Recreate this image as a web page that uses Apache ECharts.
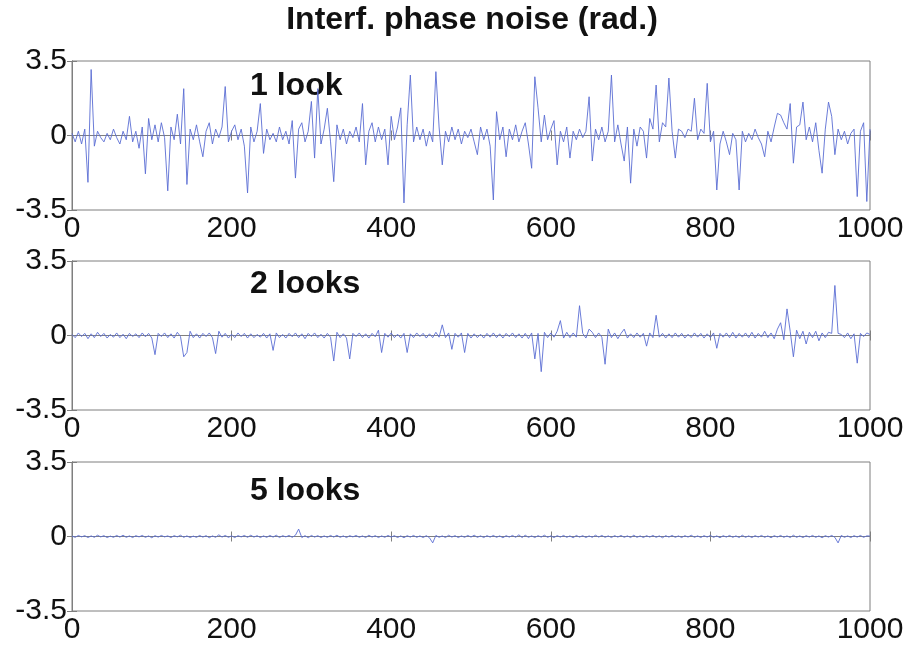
<!DOCTYPE html>
<html><head><meta charset="utf-8">
<script src="https://cdn.jsdelivr.net/npm/echarts@6/dist/echarts.min.js"></script>
<style>html,body{margin:0;padding:0;background:#fff}#c{width:911px;height:647px}</style>
</head><body><div id="c"></div>
<script>
const titleText = 'Interf. phase noise (rad.)';
const panelLabels = ['1 look', '2 looks', '5 looks'];
const sampleStep = 4;            // samples between stored points
const xTickValues = [0, 200, 400, 600, 800, 1000];
const yTickValues = [-3.5, 0, 3.5];

// 1 look (x = index * sampleStep)
const look1 = [
0.1,-0.3,0.2,-0.4,0.3,-2.2,3.1,-0.5,0.2,-0.1,
-0.3,0.1,-0.2,0.3,-0.1,-0.4,0.2,-0.2,0.9,-0.3,
0.2,-0.6,0.4,-1.8,0.8,-0.2,0.5,-0.3,0.6,-0.1,
-2.6,0.4,-0.2,1.0,-0.4,2.2,-2.3,0.3,-0.2,0.5,
-0.3,-1.0,0.2,0.6,-0.4,0.3,-0.1,0.4,2.3,-0.3,
0.2,0.5,-0.2,0.3,-0.5,-2.7,0.4,-0.3,0.2,1.5,
-0.84,0.3,-0.2,0.1,-0.3,0.4,-0.2,0.2,-0.4,0.7,
-2.0,0.3,0.6,-0.3,0.2,1.6,-1.06,2.2,-0.4,0.3,
1.28,-0.3,-2.17,0.5,-0.2,0.3,-0.4,0.2,-0.1,0.4,
-0.3,1.5,-1.38,0.2,0.6,-0.3,0.4,-0.2,0.3,-1.38,
0.9,-0.2,0.4,1.3,-3.17,0.5,2.84,-0.3,0.4,-0.2,
0.3,-0.5,0.2,-0.3,3.0,0.4,-1.38,0.2,-0.3,0.4,
-0.2,0.3,-0.4,0.2,-0.1,0.3,-0.3,-0.9,0.4,-0.2,
0.3,-0.5,-3.03,1.12,-0.2,0.4,-1.0,0.3,-0.2,0.5,
-0.3,0.2,0.6,-0.4,-1.54,2.76,1.3,-0.3,0.96,-0.2,
0.3,0.7,-1.38,0.2,-0.3,0.4,-1.06,0.2,-0.2,0.3,
-0.1,0.2,1.82,-1.2,0.3,-0.2,0.4,-0.3,0.2,2.84,
-0.3,0.5,-0.4,-1.2,0.4,-2.24,0.3,-0.5,0.4,0.2,
-1.06,0.8,0.3,2.37,-0.3,0.6,0.4,2.7,0.2,-1.06,
0.3,0.2,-0.1,0.3,0.2,1.75,-0.2,0.3,0.1,2.45,
-0.3,0.2,-2.56,-0.4,0.2,-0.3,-0.9,0.1,-0.2,-2.56,
0.2,-0.3,0.1,-0.2,0.3,-0.1,-0.4,-1.0,0.2,-0.3,
0.4,1.04,0.96,0.6,0.3,1.5,-1.3,0.4,0.5,1.57,
-0.2,0.4,-0.3,0.6,-0.7,-1.77,0.3,1.57,0.9,-0.9,
0.3,-0.2,0.2,-0.4,0.1,0.3,-2.87,0.2,0.6,-3.1,
0.3];

// 2 looks
const look2 = [
0.05,-0.1,0.12,-0.05,0.1,-0.15,0.08,-0.1,0.15,-0.05,
0.1,-0.12,0.05,-0.08,0.12,-0.1,0.06,-0.15,0.1,-0.05,
0.08,-0.1,0.12,-0.06,0.1,-0.12,-0.9,0.1,-0.05,0.12,
-0.1,0.08,-0.12,0.15,-0.05,-1.0,-0.8,0.2,-0.1,0.08,
-0.12,0.1,-0.05,0.12,-0.1,-0.85,0.2,-0.08,0.1,-0.12,
0.06,-0.1,0.12,-0.05,0.1,-0.12,0.08,-0.1,0.05,-0.08,
0.1,-0.12,0.08,-0.7,0.12,-0.1,0.05,-0.12,0.1,-0.06,
0.12,-0.1,0.08,-0.15,0.1,-0.05,0.12,-0.1,0.06,-0.12,
0.1,-0.08,-1.2,0.15,-0.1,0.08,-0.12,-1.1,0.1,-0.05,
0.12,-0.1,0.08,-0.12,0.1,-0.06,0.25,-0.8,0.1,-0.08,
0.12,-0.1,0.06,-0.12,0.1,-0.8,0.08,-0.1,0.12,-0.05,
0.1,-0.12,0.08,-0.1,0.15,-0.08,0.5,-0.1,0.12,-0.65,
0.1,-0.08,0.12,-0.8,0.1,-0.12,0.08,-0.1,0.06,-0.12,
0.1,-0.08,0.12,-0.1,0.08,-0.12,0.1,-0.06,0.12,-0.1,
0.08,-0.12,0.1,-0.15,0.12,-1.1,0.1,-1.7,0.15,-0.1,
0.12,-0.08,0.2,0.7,-0.12,0.15,-0.1,0.12,-0.08,1.4,
0.1,-0.12,0.3,0.15,-0.1,0.12,-0.08,-1.35,0.3,-0.1,
0.12,-0.15,0.1,0.3,-0.12,0.08,-0.1,0.12,-0.08,0.1,
-0.5,0.12,-0.1,0.95,-0.08,0.1,-0.12,0.08,-0.1,0.12,
-0.08,0.1,-0.12,0.06,-0.1,0.12,-0.08,0.1,-0.12,0.08,
-0.1,0.12,-0.6,0.1,-0.08,0.12,-0.1,0.15,-0.12,0.1,
-0.08,0.12,-0.1,0.15,-0.12,0.1,-0.08,0.2,-0.1,0.12,
-0.15,0.3,0.6,-0.2,1.25,0.2,-1.0,0.25,-0.15,0.2,
-0.4,0.15,-0.1,0.2,-0.25,0.12,-0.1,0.15,0.1,2.35,
0.1,0.05,-0.1,0.12,-0.15,0.08,-1.3,0.1,-0.05,0.12,
0.05];

// 5 looks
const look5 = [
0.02,-0.04,0.05,-0.02,0.04,-0.05,0.03,-0.04,0.06,-0.02,
0.04,-0.05,0.02,-0.04,0.05,-0.03,0.06,-0.04,0.03,-0.05,
0.04,-0.02,0.05,-0.04,0.03,-0.06,0.04,-0.03,0.05,-0.02,
0.03,-0.05,0.04,-0.02,0.06,-0.04,0.03,-0.05,0.02,-0.04,
0.05,-0.03,0.04,-0.06,0.03,-0.04,0.08,-0.03,0.05,-0.04,
0.03,-0.05,0.04,-0.02,0.05,-0.04,0.06,-0.03,0.04,-0.05,
0.03,-0.04,0.05,-0.03,0.06,-0.05,0.04,-0.02,0.05,-0.04,
0.06,0.35,-0.05,0.04,-0.06,0.05,-0.03,0.04,-0.05,0.03,
-0.04,0.05,-0.03,0.06,-0.04,0.03,-0.05,0.04,-0.02,0.05,
-0.04,0.03,-0.05,0.06,-0.03,0.04,-0.05,0.03,-0.04,0.05,
-0.03,0.04,-0.05,0.03,-0.06,0.04,-0.03,0.05,-0.04,0.03,
-0.05,0.04,-0.06,-0.3,0.05,-0.04,0.03,-0.05,0.06,-0.03,
0.04,-0.05,0.03,-0.04,0.05,-0.03,0.06,-0.04,0.03,-0.05,
0.04,-0.03,0.05,-0.04,0.03,-0.06,0.04,-0.03,0.05,-0.04,
0.08,-0.05,0.06,-0.04,0.03,-0.05,0.04,-0.03,0.06,-0.04,
0.03,-0.05,0.04,-0.03,0.05,-0.04,0.03,-0.06,0.05,-0.03,
0.04,-0.05,0.03,-0.04,0.06,-0.03,0.05,-0.04,0.03,-0.05,
0.04,-0.03,0.05,-0.04,0.03,-0.05,0.06,-0.04,0.03,-0.05,
0.04,-0.03,0.05,-0.04,0.03,-0.06,0.04,-0.03,0.05,-0.04,
0.03,-0.05,0.04,-0.03,0.06,-0.04,0.03,-0.05,0.04,-0.03,
0.05,-0.04,0.03,-0.06,0.04,-0.03,0.05,-0.04,0.03,-0.05,
0.06,-0.04,0.03,-0.05,0.04,-0.03,0.05,-0.04,0.03,-0.06,
0.04,-0.03,0.05,-0.04,0.03,-0.05,0.06,-0.04,0.03,-0.05,
0.04,-0.03,0.05,-0.04,0.03,-0.06,0.04,-0.03,0.05,-0.04,
-0.3,0.05,-0.04,0.03,-0.05,0.04,-0.03,0.05,-0.04,0.03,
0.02];

const panels = [look1, look2, look5];
const gridTops = [61, 261, 462];
const gridHeight = 149;
const lineColor = '#5a6dd4';
const frameColor = '#7f7f7f';
const font = 'Liberation Sans, Arial, sans-serif';

const grids = [], xAxes = [], yAxes = [], series = [];
panels.forEach((vals, p) => {
  grids.push({left: 72, width: 798, top: gridTops[p], height: gridHeight,
    show: true, borderColor: frameColor, borderWidth: 1, backgroundColor: '#fff'});
  const xBase = {gridIndex: p, type: 'value', min: xTickValues[0], max: xTickValues[xTickValues.length-1],
    interval: xTickValues[1]-xTickValues[0], splitLine: {show: false},
    axisLine: {show: true, lineStyle: {color: frameColor}},
    axisTick: {show: true, inside: true, length: 5, lineStyle: {color: frameColor}}};
  xAxes.push(Object.assign({}, xBase, {position: 'bottom',
    axisLabel: {show: true, color: '#111', fontSize: 30, fontFamily: font, margin: 4,
      formatter: v => String(v)}}));
  xAxes.push(Object.assign({}, xBase, {position: 'top', axisLabel: {show: false}}));
  const yBase = {gridIndex: p, type: 'value', min: yTickValues[0], max: yTickValues[yTickValues.length-1],
    interval: yTickValues[1]-yTickValues[0], splitLine: {show: false},
    axisLine: {show: true, lineStyle: {color: frameColor}},
    axisTick: {show: true, inside: true, length: 5, lineStyle: {color: frameColor}}};
  yAxes.push(Object.assign({}, yBase, {position: 'left',
    axisLabel: {show: true, color: '#111', fontSize: 30, fontFamily: font, margin: 5,
      formatter: v => String(v)}}));
  yAxes.push(Object.assign({}, yBase, {position: 'right', axisLabel: {show: false}}));
  series.push({type: 'line', xAxisIndex: 2*p, yAxisIndex: 2*p, showSymbol: false, symbol: 'none',
    lineStyle: {width: 0.9, color: lineColor}, animation: false,
    data: vals.map((v, i) => [i * sampleStep, v])});
});

const graphics = [{type: 'text', x: 472, y: 20, style: {text: titleText,
  font: 'bold 32px ' + font, fill: '#111', textAlign: 'center', textVerticalAlign: 'middle'}}];
const labelTops = [70, 268, 475];
panelLabels.forEach((t, p) => graphics.push({type: 'text', left: 250, top: labelTops[p],
  style: {text: t, font: 'bold 32px ' + font, fill: '#111'}}));

const chart = echarts.init(document.getElementById('c'));
chart.setOption({animation: false, backgroundColor: '#fff', grid: grids, xAxis: xAxes, yAxis: yAxes,
  series: series, graphic: graphics});
</script></body></html>
